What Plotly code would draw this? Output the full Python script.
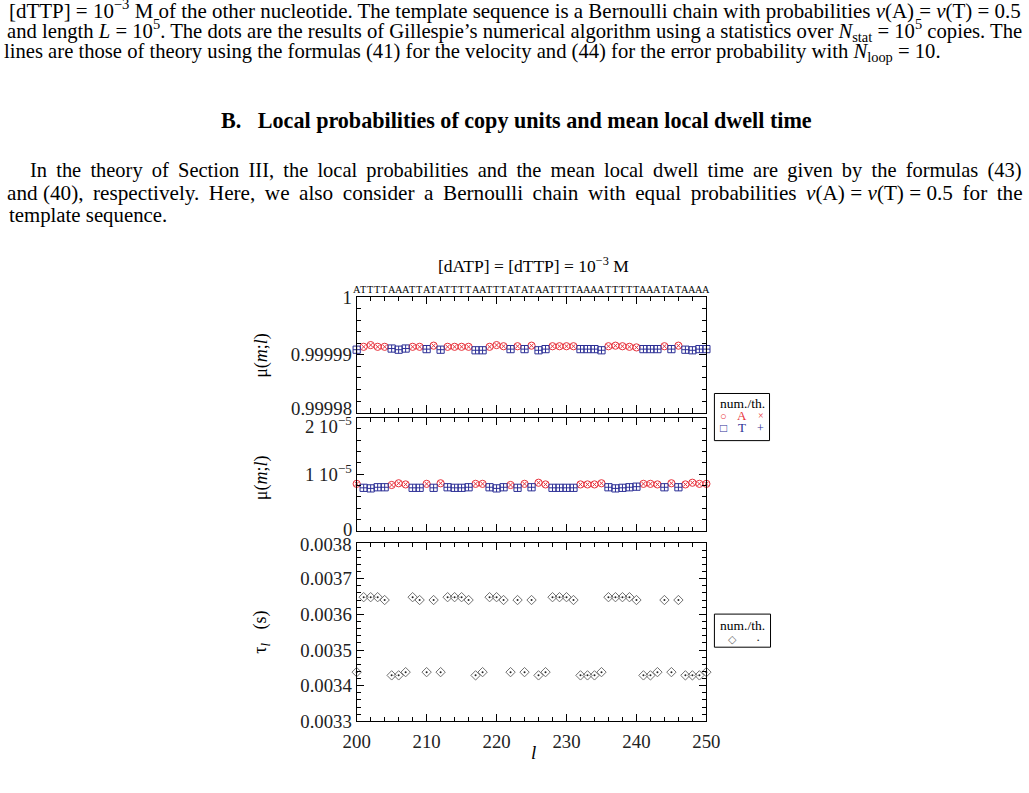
import plotly.graph_objects as go

W, H = 1029, 793

# ---------------- data ----------------
positions = list(range(200, 251))
template = list("ATTTTAAATTATATTTTAATTTATATAATTTTAAAATTTTTAAATATAAAA")

# top panel: probability of the correctly paired copy unit
mu_correct_num = [
    0.9999909, 0.9999914, 0.9999917, 0.9999914, 0.9999914, 0.9999911, 0.9999909, 0.9999911,
    0.9999914, 0.9999914, 0.9999910, 0.9999916, 0.9999909, 0.9999914, 0.9999914, 0.9999914,
    0.9999914, 0.9999908, 0.9999908, 0.9999914, 0.9999917, 0.9999915, 0.9999910, 0.9999915,
    0.9999910, 0.9999916, 0.9999908, 0.9999910, 0.9999915, 0.9999915, 0.9999915, 0.9999915,
    0.9999910, 0.9999910, 0.9999910, 0.9999908, 0.9999915, 0.9999916, 0.9999915, 0.9999914,
    0.9999913, 0.9999910, 0.9999910, 0.9999910, 0.9999915, 0.9999910, 0.9999916, 0.9999909,
    0.9999908, 0.9999910, 0.9999910]
mu_correct_th = [
    0.9999909, 0.9999914, 0.9999917, 0.9999914, 0.9999914, 0.9999911, 0.9999909, 0.9999911,
    0.9999914, 0.9999914, 0.9999910, 0.9999916, 0.9999909, 0.9999914, 0.9999914, 0.9999914,
    0.9999914, 0.9999908, 0.9999908, 0.9999914, 0.9999917, 0.9999915, 0.9999910, 0.9999915,
    0.9999910, 0.9999916, 0.9999908, 0.9999910, 0.9999915, 0.9999915, 0.9999915, 0.9999915,
    0.9999910, 0.9999910, 0.9999910, 0.9999908, 0.9999915, 0.9999916, 0.9999915, 0.9999914,
    0.9999913, 0.9999910, 0.9999910, 0.9999910, 0.9999915, 0.9999910, 0.9999916, 0.9999909,
    0.9999908, 0.9999910, 0.9999910]

# middle panel: probability of the error copy unit, in units of 1e-5
mu_error_num = [
    0.83, 0.76, 0.75, 0.77, 0.77, 0.81, 0.84, 0.82, 0.76, 0.76, 0.83, 0.76, 0.84,
    0.77, 0.76, 0.76, 0.77, 0.83, 0.83, 0.77, 0.75, 0.77, 0.81, 0.76, 0.83, 0.77,
    0.85, 0.82, 0.76, 0.76, 0.76, 0.76, 0.82, 0.82, 0.82, 0.84, 0.77, 0.75, 0.76,
    0.77, 0.78, 0.83, 0.83, 0.82, 0.77, 0.84, 0.77, 0.82, 0.85, 0.83, 0.83]
mu_error_th = [
    0.83, 0.76, 0.75, 0.77, 0.77, 0.81, 0.84, 0.82, 0.76, 0.76, 0.83, 0.76, 0.84,
    0.77, 0.76, 0.76, 0.77, 0.83, 0.83, 0.77, 0.75, 0.77, 0.81, 0.76, 0.83, 0.77,
    0.85, 0.82, 0.76, 0.76, 0.76, 0.76, 0.82, 0.82, 0.82, 0.84, 0.77, 0.75, 0.76,
    0.77, 0.78, 0.83, 0.83, 0.82, 0.77, 0.84, 0.77, 0.82, 0.85, 0.83, 0.83]

# bottom panel: mean local dwell time (s)
tau_num = [
    0.003438, 0.003648, 0.003648, 0.003648, 0.003640, 0.003429, 0.003429, 0.003438,
    0.003648, 0.003640, 0.003438, 0.003640, 0.003438, 0.003648, 0.003648, 0.003648,
    0.003640, 0.003429, 0.003438, 0.003648, 0.003648, 0.003640, 0.003438, 0.003640,
    0.003438, 0.003640, 0.003429, 0.003438, 0.003648, 0.003648, 0.003648, 0.003640,
    0.003429, 0.003429, 0.003429, 0.003438, 0.003648, 0.003648, 0.003648, 0.003648,
    0.003640, 0.003429, 0.003429, 0.003438, 0.003640, 0.003438, 0.003640, 0.003429,
    0.003429, 0.003429, 0.003438]
tau_th = [
    0.003438, 0.003648, 0.003648, 0.003648, 0.003640, 0.003429, 0.003429, 0.003438,
    0.003648, 0.003640, 0.003438, 0.003640, 0.003438, 0.003648, 0.003648, 0.003648,
    0.003640, 0.003429, 0.003438, 0.003648, 0.003648, 0.003640, 0.003438, 0.003640,
    0.003438, 0.003640, 0.003429, 0.003438, 0.003648, 0.003648, 0.003648, 0.003640,
    0.003429, 0.003429, 0.003429, 0.003438, 0.003648, 0.003648, 0.003648, 0.003648,
    0.003640, 0.003429, 0.003429, 0.003438, 0.003640, 0.003438, 0.003640, 0.003429,
    0.003429, 0.003429, 0.003438]

x_ticks = [200, 210, 220, 230, 240, 250]
y1_ticks = [0.99998, 0.99999, 1.0]
y1_labels = ["0.99998", "0.99999", "1"]
y2_ticks = [0, 1e-5, 2e-5]
y2_labels = ["0", "1 10<sup>−5</sup>", "2 10<sup>−5</sup>"]
y3_ticks = [0.0033, 0.0034, 0.0035, 0.0036, 0.0037, 0.0038]
y3_labels = ["0.0033", "0.0034", "0.0035", "0.0036", "0.0037", "0.0038"]

# ---------------- style ----------------
RED = "#e8323c"
BLUE = "#2c2f96"
GRAY = "#707070"
FONT = "Liberation Serif"
TICK = 18.8

# the photographed page comes out slightly shrunk about its centre; lay out in
# target-pixel coordinates and convert
S = 0.9708
K = 1 / S
CX, CY = W / 2, H / 2

complement = {"A": "T", "T": "A"}
copy_unit = [complement[c] for c in template]


def px(x):
    return (CX + (x - CX) / S) / W


def py(y):
    return 1 - (CY + (y - CY) / S) / H


def split(vals, letters, letter, scale=1.0):
    xs = [l for l, c in zip(positions, letters) if c == letter]
    ys = [v * scale for v, c in zip(vals, letters) if c == letter]
    return xs, ys


fig = go.Figure()


def add_pair(xa, ya, num, th, letters, scale=1.0):
    for letter, color, sym_num, sym_th, sz_th in (("A", RED, "circle-open", "x-thin-open", 4),
                                                  ("T", BLUE, "square-open", "cross-thin-open", 5)):
        xs, ys = split(num, letters, letter, scale)
        fig.add_trace(go.Scatter(x=xs, y=ys, mode="markers", xaxis=xa, yaxis=ya, cliponaxis=False,
                                 marker=dict(symbol=sym_num, size=7 * K, color=color,
                                             line=dict(width=1, color=color)),
                                 showlegend=False, hoverinfo="skip"))
        xs, ys = split(th, letters, letter, scale)
        fig.add_trace(go.Scatter(x=xs, y=ys, mode="markers", xaxis=xa, yaxis=ya, cliponaxis=False,
                                 marker=dict(symbol=sym_th, size=sz_th * K, color=color,
                                             line=dict(width=1, color=color)),
                                 showlegend=False, hoverinfo="skip"))


add_pair("x", "y", mu_correct_num, mu_correct_th, copy_unit)
add_pair("x2", "y2", mu_error_num, mu_error_th, template, 1e-5)

fig.add_trace(go.Scatter(x=positions, y=tau_num, mode="markers", xaxis="x3", yaxis="y3", cliponaxis=False,
                         marker=dict(symbol="diamond-open", size=7 * K, color=GRAY, line=dict(width=1, color=GRAY)),
                         showlegend=False, hoverinfo="skip"))
fig.add_trace(go.Scatter(x=positions, y=tau_th, mode="markers", xaxis="x3", yaxis="y3", cliponaxis=False,
                         marker=dict(symbol="circle", size=2, color="#222"),
                         showlegend=False, hoverinfo="skip"))

X0, X1 = 357, 706
panels = {1: (298, 413), 2: (418, 531), 3: (543, 721)}

axis_common = dict(showline=True, linecolor="black", linewidth=1, mirror="allticks", ticks="inside",
                   showgrid=False, zeroline=False, tickcolor="black",
                   tickfont=dict(family=FONT, size=TICK, color="#222"))

xaxis_base = dict(axis_common, range=[200, 250], tickvals=x_ticks, ticklen=7 * K,
                  domain=[px(X0), px(X1)],
                  minor=dict(tickmode="linear", tick0=200, dtick=2, ticks="inside", ticklen=4 * K,
                             tickcolor="black"))


def hide(labels, hidden):
    return ["" if i in hidden else s for i, s in enumerate(labels)]


fig.update_layout(
    xaxis=dict(xaxis_base, anchor="y", showticklabels=False),
    xaxis2=dict(xaxis_base, anchor="y2", matches="x", showticklabels=False),
    xaxis3=dict(xaxis_base, anchor="y3", matches="x", showticklabels=True, ticklabelstandoff=3),
    yaxis=dict(axis_common, anchor="x", domain=[py(panels[1][1]), py(panels[1][0])],
               range=[0.99998, 1.0], tickmode="array", tickvals=y1_ticks, ticktext=hide(y1_labels, {0}),
               ticklen=7 * K,
               minor=dict(tickmode="linear", tick0=0.99998, dtick=0.000002, ticks="inside", ticklen=4 * K,
                          tickcolor="black")),
    yaxis2=dict(axis_common, anchor="x2", domain=[py(panels[2][1]), py(panels[2][0])],
                range=[0, 2e-5], tickmode="array", tickvals=y2_ticks, ticktext=hide(y2_labels, {0, 2}),
                ticklen=7 * K,
                minor=dict(tickmode="linear", tick0=0, dtick=0.000002, ticks="inside", ticklen=4 * K,
                           tickcolor="black")),
    yaxis3=dict(axis_common, anchor="x3", domain=[py(panels[3][1]), py(panels[3][0])],
                range=[0.0033, 0.0038], tickmode="array", tickvals=y3_ticks, ticktext=hide(y3_labels, {5}),
                ticklen=7 * K,
                minor=dict(tickmode="linear", tick0=0.0033, dtick=0.00002, ticks="inside", ticklen=4 * K,
                           tickcolor="black")),
    width=W, height=H, margin=dict(l=0, r=0, t=0, b=0),
    paper_bgcolor="white", plot_bgcolor="white",
    font=dict(family=FONT, color="black"),
)

ann = []


def text(x, y, s, size=17, color="black", angle=0, family=FONT):
    ann.append(dict(x=px(x), y=py(y), xref="paper", yref="paper", text=s, showarrow=False,
                    xanchor="center", yanchor="middle", textangle=angle,
                    font=dict(family=family, size=size, color=color)))


# tick labels at the panel edges, nudged inside their own panel
edge_labels = [("y", y1_ticks[0], y1_labels[0], 4), ("y2", y2_ticks[2], y2_labels[2], -7),
               ("y2", y2_ticks[0], y2_labels[0], 1), ("y3", y3_ticks[5], y3_labels[5], -2)]
for yref, val, lab, shift in edge_labels:
    ann.append(dict(x=px(X0 - 3), y=val, xref="paper", yref=yref, text=lab, showarrow=False,
                    xanchor="right", yanchor="middle", yshift=shift * K,
                    font=dict(family=FONT, size=TICK, color="#222")))

# template sequence above the top panel, one letter per position
for l, c in zip(positions, template):
    ann.append(dict(x=l, y=py(290), xref="x", yref="paper", text=c, showarrow=False,
                    xanchor="center", yanchor="middle", font=dict(family=FONT, size=10.3, color="black")))

text(533, 266, "[dATP] = [dTTP] = 10<sup>−3</sup> M", 17.5)
text(262, 356, "μ(<i>m</i>;<i>l</i>)", 18, angle=-90)
text(262, 478, "μ(<i>m</i>;<i>l</i>)", 18, angle=-90)
text(262, 632, "τ<sub><i>l</i></sub>   (s)", 18, angle=-90)
text(533, 752, "<i>l</i>", 19)

# legend boxes
shapes = [
    dict(type="rect", xref="paper", yref="paper", x0=px(714), x1=px(769), y0=py(441), y1=py(394),
         line=dict(color="black", width=1)),
    dict(type="rect", xref="paper", yref="paper", x0=px(714), x1=px(770), y0=py(647), y1=py(614),
         line=dict(color="black", width=1)),
]
text(742, 404, "num./th.", 13.5)
text(723, 416, "○", 11, color=RED)
text(742, 416, "A", 13, color=RED)
text(760, 416, "×", 10, color=RED)
text(723, 428, "□", 12, color=BLUE)
text(742, 428, "T", 13, color=BLUE)
text(760, 428, "+", 12, color=BLUE)
text(742, 625, "num./th.", 13.5)
text(732, 639, "◇", 11, color=GRAY)
text(758, 639, "·", 13, color="#222")

# page text around the figure
TS = " \u2009"
text(514.5, 11, "[dTTP] = 10<sup>−3</sup> M of the other nucleotide. The template sequence is a Bernoulli chain with probabilities <i>ν</i>(A) = <i>ν</i>(T) = 0.5", 20.95)
text(514.5, 32, "and length <i>L</i> = 10<sup>5</sup>. The dots are the results of Gillespie’s numerical algorithm using a statistics over <i>N</i><sub>stat</sub> = 10<sup>5</sup> copies. The", 20.66)
text(472.5, 54, "lines are those of theory using the formulas (41) for the velocity and (44) for the error probability with <i>N</i><sub>loop</sub> = 10.", 20.63)
text(516, 122, "<b>B.   Local probabilities of copy units and mean local dwell time</b>", 22.1)
text(526, 172, "In the theory of Section III, the local probabilities and the mean local dwell time are given by the formulas (43)".replace(" ", TS), 20.45)
text(514.5, 194, "and (40),  respectively.  Here,  we  also  consider  a  Bernoulli  chain  with  equal  probabilities  <i>ν</i>(A) = <i>ν</i>(T) = 0.5  for  the".replace("  ", TS), 21.2)
text(88.5, 216, "template sequence.", 20.8)

fig.update_layout(annotations=ann, shapes=shapes)
fig.write_html("out.html", post_script="document.body.style.margin='0';")
